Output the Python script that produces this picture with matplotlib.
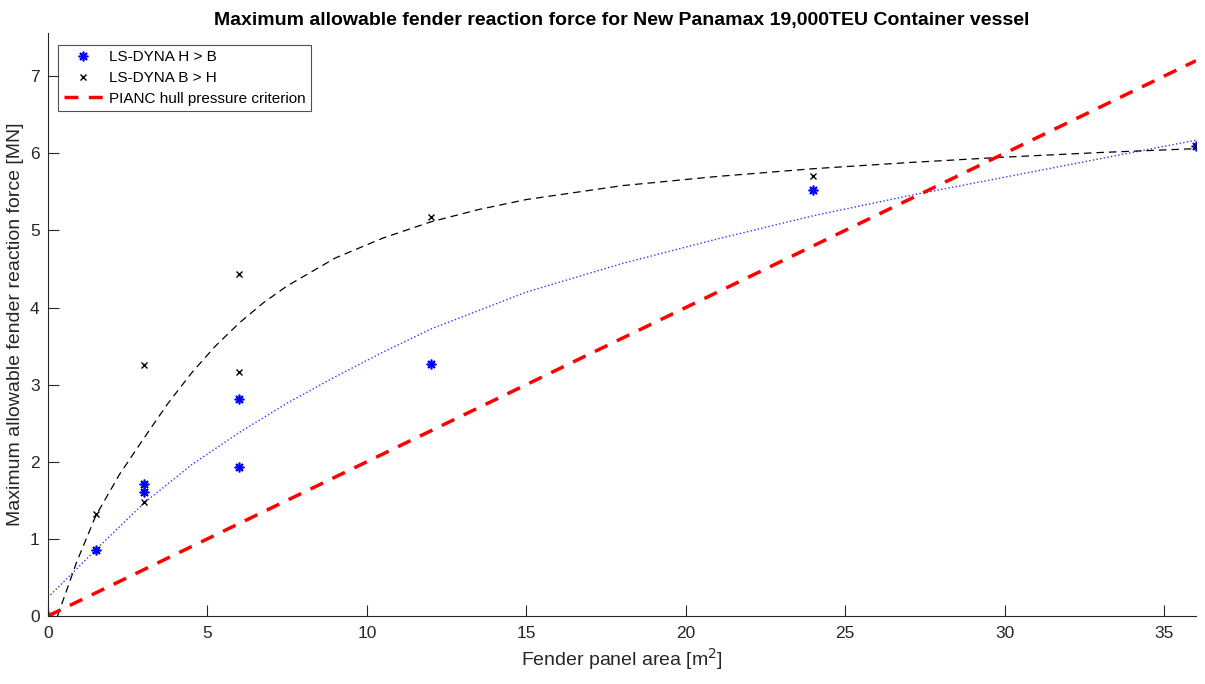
import numpy as np
import matplotlib.pyplot as plt

plt.rcParams['font.family'] = ['Liberation Sans', 'DejaVu Sans']

# LS-DYNA results, H > B
area_hb = [0, 1.5, 3, 3, 6, 6, 12, 24, 36]
force_hb = [0, 0.86, 1.71, 1.61, 2.81, 1.93, 3.27, 5.52, 6.09]
# LS-DYNA results, B > H
area_bh = [0, 1.5, 3, 3, 6, 6, 12, 24, 36]
force_bh = [0, 1.32, 3.26, 1.48, 4.43, 3.17, 5.18, 5.71, 6.10]

# fitted curves
fit_hb_x = [0, 1.5, 3, 4.5, 6, 7.5, 9, 10.5, 12, 15, 18, 21, 24, 27, 30, 33, 36]
fit_hb_y = [0.24, 0.86, 1.46, 1.96, 2.38, 2.76, 3.1, 3.42, 3.72, 4.2, 4.57, 4.89, 5.19, 5.45, 5.69, 5.93, 6.17]
fit_bh_x = [0.3, 0.9, 1.5, 2.25, 3, 3.75, 4.5, 5.25, 6, 6.75, 7.5, 9, 10.5, 12, 13.5, 15, 18, 21, 24, 27, 30, 33, 36]
fit_bh_y = [0, 0.7, 1.3, 1.84, 2.3, 2.75, 3.15, 3.5, 3.8, 4.06, 4.28, 4.64, 4.9, 5.11, 5.27, 5.4, 5.58, 5.7, 5.8, 5.88, 5.95, 6.01, 6.06]

# PIANC hull pressure criterion
pianc_x = [0, 36]
pianc_y = [0, 7.2]

fig = plt.figure(figsize=(12.05, 6.84), dpi=100)
ax = fig.add_axes([0.0398, 0.0994, 0.9527, 0.8524])

ax.plot(fit_hb_x, fit_hb_y, ':', color='#3333ff', lw=1.0)
ax.plot(fit_bh_x, fit_bh_y, '--', color='k', lw=0.9, dashes=(6, 4))
ax.plot(area_hb, force_hb, linestyle='none', marker=(8, 2, 0), color='b', ms=7, mew=1.2,
        label='LS-DYNA H > B')
ax.plot(area_bh, force_bh, linestyle='none', marker='x', color='k', ms=5, mew=1.0,
        label='LS-DYNA B > H')
ax.plot(pianc_x, pianc_y, '--', color='r', lw=2.5, dashes=(4, 3),
        label='PIANC hull pressure criterion')

ax.set_xlim(0, 36)
ax.set_ylim(0, 7.56)
ax.set_xticks(range(0, 36, 5))
ax.set_yticks(range(0, 8))
for s in ['top', 'right']:
    ax.spines[s].set_visible(False)
for s in ['left', 'bottom']:
    ax.spines[s].set_color('#262626')
    ax.spines[s].set_linewidth(0.8)
ax.tick_params(direction='in', length=8, width=0.8, colors='#262626', labelsize=12.5)
ax.tick_params(axis='x', pad=7)
ax.tick_params(axis='y', pad=6)

ax.set_title('Maximum allowable fender reaction force for New Panamax 19,000TEU Container vessel',
             fontsize=14, fontweight='bold', pad=6)
ax.set_xlabel('Fender panel area [m$^2$]', fontsize=14, color='#262626', labelpad=4)
ax.set_ylabel('Maximum allowable fender reaction force [MN]', fontsize=14, color='#262626', labelpad=4)

leg = ax.legend(loc='upper left', bbox_to_anchor=(0.009, 0.98), fontsize=11, frameon=True,
                fancybox=False, edgecolor='#262626', borderpad=0.35, labelspacing=0.45,
                handlelength=2.6, handletextpad=0.4, borderaxespad=0)
leg.get_frame().set_linewidth(0.8)

fig.savefig('out.png', dpi=100)
